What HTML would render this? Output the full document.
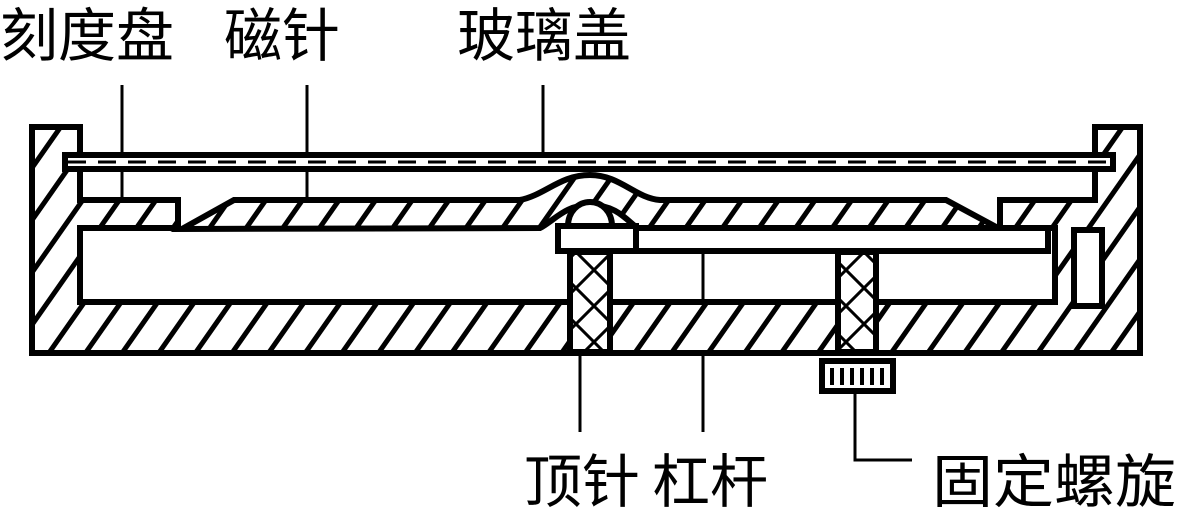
<!DOCTYPE html>
<html><head><meta charset="utf-8"><style>
html,body{margin:0;padding:0;background:#fff}
svg{display:block}
text{font-family:"Liberation Sans","Noto Sans CJK SC",sans-serif;font-size:58px;fill:#000}
</style></head><body>
<svg width="1178" height="509" viewBox="0 0 1178 509" xmlns="http://www.w3.org/2000/svg">
<defs>
<pattern id="h" patternUnits="userSpaceOnUse" width="30" height="30" patternTransform="rotate(35)">
<rect width="30" height="30" fill="#fff"/><rect x="0" y="0" width="5" height="30" fill="#000"/>
</pattern>
<pattern id="x" patternUnits="userSpaceOnUse" width="36" height="36">
<rect width="36" height="36" fill="#fff"/><path d="M0 0L36 36M36 0L0 36" stroke="#000" stroke-width="3"/>
</pattern>
</defs>
<!-- labels -->
<text x="0" y="56">刻度盘</text>
<text x="224" y="56">磁针</text>
<text x="457" y="56">玻璃盖</text>
<text x="524" y="502">顶针</text>
<text x="652" y="502">杠杆</text>
<text x="932" y="502" textLength="244" lengthAdjust="spacingAndGlyphs">固定螺旋</text>
<g stroke="#000" stroke-width="3" fill="none">
<line x1="122" y1="85" x2="122" y2="200"/>
<line x1="307" y1="85" x2="307" y2="215"/>
<line x1="543" y1="85" x2="543" y2="155"/>
<line x1="580" y1="350" x2="580" y2="432"/>
<line x1="703" y1="232" x2="703" y2="432"/>
<polyline points="855,392 855,460 912,460"/>
</g>
<!-- housing -->
<path d="M32,127 L80,127 L80,200 L178,200 L178,228 L80,228 L80,302 L1055,302 L1055,228 L1000,228 L1000,200 L1095,200 L1095,127 L1140,127 L1140,353 L32,353 Z" fill="url(#h)" stroke="#000" stroke-width="6"/>
<!-- slot -->
<rect x="1074" y="230" width="28" height="76" fill="#fff" stroke="#000" stroke-width="6"/>
<!-- glass -->
<rect x="65" y="155" width="1048" height="14" fill="#fff" stroke="#000" stroke-width="6"/>
<line x1="68" y1="162" x2="1110" y2="162" stroke="#000" stroke-width="3" stroke-dasharray="18,12"/>
<!-- needle -->
<path d="M182,229 L234,200 L520,200 C545,195 560,175 590,175 C620,175 635,198 660,200 L946,200 L998,228 L637,228 C625,218 615,205 590,205 C565,205 555,220 540,228 Z" fill="url(#h)" stroke="#000" stroke-width="6"/>
<!-- lever -->
<rect x="600" y="228" width="448" height="23" fill="#fff" stroke="#000" stroke-width="6"/>
<!-- pin posts -->
<rect x="570" y="252" width="40" height="100" fill="url(#x)" stroke="#000" stroke-width="6"/>
<rect x="838" y="252" width="38" height="100" fill="url(#x)" stroke="#000" stroke-width="6"/>
<!-- pin head -->
<path d="M568,226 C568,212 578,202 590,202 C602,202 612,212 612,226 Z" fill="#fff" stroke="#000" stroke-width="6"/>
<rect x="558" y="226" width="78" height="25" fill="#fff" stroke="#000" stroke-width="6"/>
<!-- knob -->
<rect x="822" y="361" width="71" height="30" fill="#fff" stroke="#000" stroke-width="6"/>
<g stroke="#000" stroke-width="4">
<line x1="832" y1="368" x2="832" y2="385"/><line x1="842" y1="368" x2="842" y2="385"/>
<line x1="852" y1="368" x2="852" y2="385"/><line x1="862" y1="368" x2="862" y2="385"/>
<line x1="872" y1="368" x2="872" y2="385"/><line x1="882" y1="368" x2="882" y2="385"/>
</g>
</svg>
</body></html>
